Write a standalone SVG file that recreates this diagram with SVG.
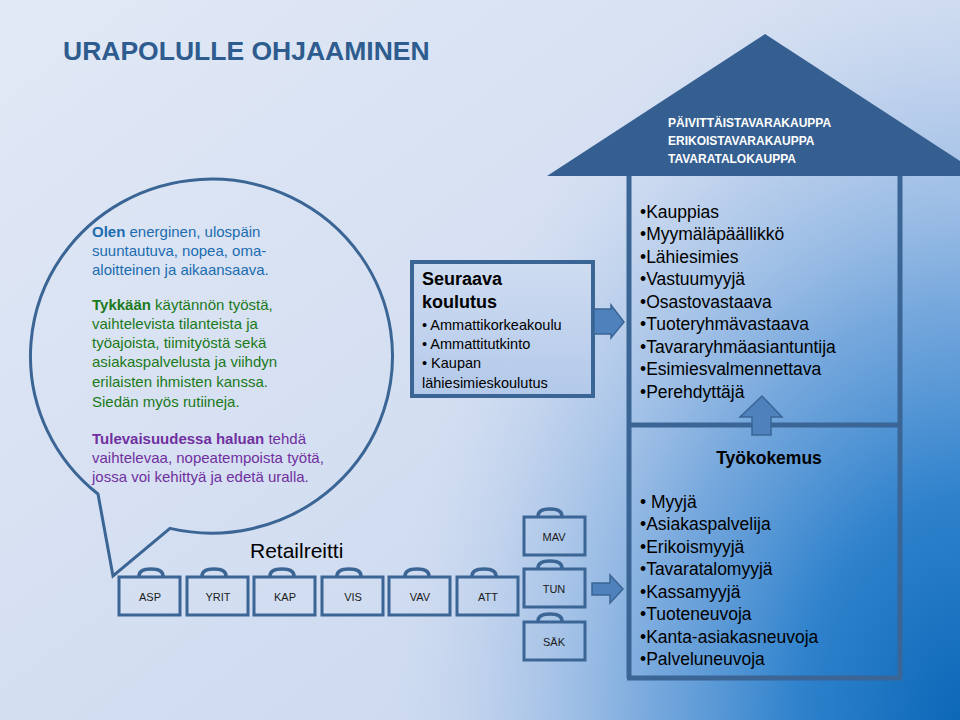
<svg xmlns="http://www.w3.org/2000/svg" width="960" height="720" viewBox="0 0 960 720">
<defs>
<linearGradient id="bg" x1="0" y1="0" x2="1" y2="1">
<stop offset="0" stop-color="#e2e9f6"/>
<stop offset="1" stop-color="#c5d4ed"/>
</linearGradient>
<radialGradient id="blue" gradientUnits="userSpaceOnUse" cx="0" cy="0" r="1" gradientTransform="translate(970,730) scale(580,780)">
<stop offset="0" stop-color="#0a66b6" stop-opacity="1"/>
<stop offset="0.3" stop-color="#2f82cc" stop-opacity="1"/>
<stop offset="0.55" stop-color="#6ea3db" stop-opacity="0.9"/>
<stop offset="0.8" stop-color="#a8c4e8" stop-opacity="0.6"/>
<stop offset="1" stop-color="#c5d4ed" stop-opacity="0"/>
</radialGradient>
<linearGradient id="boxfill" x1="0" y1="0" x2="0" y2="1">
<stop offset="0" stop-color="#cfdcf1"/>
<stop offset="1" stop-color="#b3c9ea"/>
</linearGradient>
</defs>
<style>
.t{font-family:"Liberation Sans",Arial,sans-serif}
.ln{fill:none;stroke:#3a6595;stroke-width:5}
.bc{fill:none;stroke:#3a6595;stroke-width:3}
.hd{fill:none;stroke:#3a6595;stroke-width:3.5;stroke-linecap:round}
.bt{font-family:"Liberation Sans",Arial,sans-serif;font-size:11px;fill:#1a1a1a;text-anchor:middle}
.arr{fill:#4f81bd;stroke:#3a6595;stroke-width:1.5}
.li{font-family:"Liberation Sans",Arial,sans-serif;font-size:17.5px;fill:#000}
</style>
<rect width="960" height="720" fill="url(#bg)"/>
<rect width="960" height="720" fill="url(#blue)"/>

<text class="t" x="63" y="60" font-size="26.5" font-weight="bold" fill="#2e5c8f">URAPOLULLE OHJAAMINEN</text>

<g id="bubble">
<path d="M98,494 A181,177 0 1 1 170,528.4 L113,576 Z" fill="none" stroke="#3a6595" stroke-width="3" stroke-linejoin="miter"/>
<text class="t" font-size="15" x="92">
<tspan x="92" y="237" fill="#1b6cb0"><tspan font-weight="bold">Olen</tspan> energinen, ulospäin</tspan>
<tspan x="92" y="256" fill="#1b6cb0">suuntautuva, nopea, oma-</tspan>
<tspan x="92" y="275" fill="#1b6cb0">aloitteinen ja aikaansaava.</tspan>
<tspan x="92" y="310" fill="#1b7a1b"><tspan font-weight="bold">Tykkään</tspan> käytännön työstä,</tspan>
<tspan x="92" y="329" fill="#1b7a1b">vaihtelevista tilanteista ja</tspan>
<tspan x="92" y="348" fill="#1b7a1b">työajoista, tiimityöstä sekä</tspan>
<tspan x="92" y="367" fill="#1b7a1b">asiakaspalvelusta ja viihdyn</tspan>
<tspan x="92" y="387" fill="#1b7a1b">erilaisten ihmisten kanssa.</tspan>
<tspan x="92" y="407" fill="#1b7a1b">Siedän myös rutiineja.</tspan>
<tspan x="92" y="444" fill="#7030a0"><tspan font-weight="bold">Tulevaisuudessa haluan</tspan> tehdä</tspan>
<tspan x="92" y="463" fill="#7030a0">vaihtelevaa, nopeatempoista työtä,</tspan>
<tspan x="92" y="482" fill="#7030a0">jossa voi kehittyä ja edetä uralla.</tspan>
</text>
</g>

<g id="koulutus">
<rect x="412" y="262" width="181" height="134" fill="url(#boxfill)" stroke="#3a6595" stroke-width="4"/>
<text class="t" font-size="18" font-weight="bold" fill="#000">
<tspan x="422" y="285">Seuraava</tspan>
<tspan x="422" y="308">koulutus</tspan>
</text>
<text class="t" font-size="14.5" fill="#000">
<tspan x="422" y="330">• Ammattikorkeakoulu</tspan>
<tspan x="422" y="349">• Ammattitutkinto</tspan>
<tspan x="422" y="368">• Kaupan</tspan>
<tspan x="422" y="388">lähiesimieskoulutus</tspan>
</text>
</g>

<g id="house">
<polygon points="547,176 765,34 983,176" fill="#365f91"/>
<text class="t" font-size="12" font-weight="bold" fill="#fff">
<tspan x="668" y="127">PÄIVITTÄISTAVARAKAUPPA</tspan>
<tspan x="668" y="145">ERIKOISTAVARAKAUPPA</tspan>
<tspan x="668" y="163">TAVARATALOKAUPPA</tspan>
</text>
<path class="ln" d="M629,176 V678 M900,176 V678 M629,425 H900 M627,678 H902"/>
</g>

<g id="ylempi">
<text class="li">
<tspan x="640" y="218">•Kauppias</tspan>
<tspan x="640" y="240">•Myymäläpäällikkö</tspan>
<tspan x="640" y="263">•Lähiesimies</tspan>
<tspan x="640" y="285">•Vastuumyyjä</tspan>
<tspan x="640" y="308">•Osastovastaava</tspan>
<tspan x="640" y="330">•Tuoteryhmävastaava</tspan>
<tspan x="640" y="353">•Tavararyhmäasiantuntija</tspan>
<tspan x="640" y="375">•Esimiesvalmennettava</tspan>
<tspan x="640" y="398">•Perehdyttäjä</tspan>
</text>
</g>

<g id="tyokokemus">
<text class="t" x="769" y="464" font-size="17.5" font-weight="bold" fill="#000" text-anchor="middle">Työkokemus</text>
<text class="li">
<tspan x="640" y="508">• Myyjä</tspan>
<tspan x="640" y="530">•Asiakaspalvelija</tspan>
<tspan x="640" y="553">•Erikoismyyjä</tspan>
<tspan x="640" y="575">•Tavaratalomyyjä</tspan>
<tspan x="640" y="598">•Kassamyyjä</tspan>
<tspan x="640" y="620">•Tuoteneuvoja</tspan>
<tspan x="640" y="643">•Kanta-asiakasneuvoja</tspan>
<tspan x="640" y="665">•Palveluneuvoja</tspan>
</text>
</g>

<text class="t" x="250" y="558" font-size="21" fill="#000">Retailreitti</text>

<g id="ASP"><path class="hd" d="M139,576 Q139,569 151,569 Q163,569 163,576"/><rect class="bc" x="119" y="577" width="61" height="38"/><text class="bt" x="150" y="601">ASP</text></g>
<g id="YRIT"><path class="hd" d="M202,576 Q202,569 214,569 Q226,569 226,576"/><rect class="bc" x="187" y="577" width="61" height="38"/><text class="bt" x="218" y="601">YRIT</text></g>
<g id="KAP"><path class="hd" d="M270,576 Q270,569 282,569 Q294,569 294,576"/><rect class="bc" x="254" y="577" width="61" height="38"/><text class="bt" x="285" y="601">KAP</text></g>
<g id="VIS"><path class="hd" d="M337,576 Q337,569 349,569 Q361,569 361,576"/><rect class="bc" x="322" y="577" width="61" height="38"/><text class="bt" x="353" y="601">VIS</text></g>
<g id="VAV"><path class="hd" d="M405,576 Q405,569 417,569 Q429,569 429,576"/><rect class="bc" x="389" y="577" width="61" height="38"/><text class="bt" x="420" y="601">VAV</text></g>
<g id="ATT"><path class="hd" d="M472,576 Q472,569 484,569 Q496,569 496,576"/><rect class="bc" x="457" y="577" width="61" height="38"/><text class="bt" x="488" y="601">ATT</text></g>

<g id="MAV"><path class="hd" d="M538,516 Q538,509 550,509 Q562,509 562,516"/><rect class="bc" x="524" y="517" width="61" height="38"/><text class="bt" x="554" y="541">MAV</text></g>
<g id="TUN"><path class="hd" d="M538,568 Q538,561 550,561 Q562,561 562,568"/><rect class="bc" x="524" y="569" width="61" height="38"/><text class="bt" x="554" y="593">TUN</text></g>
<g id="SAK"><path class="hd" d="M538,621 Q538,614 550,614 Q562,614 562,621"/><rect class="bc" x="524" y="622" width="61" height="38"/><text class="bt" x="554" y="646">SÄK</text></g>

<g id="connectors">
<polygon class="arr" points="594,309 611,309 611,305 624,322 611,338 611,334 594,334"/>
<polygon class="arr" points="592,583 610,583 610,575 623,589 610,603 610,595 592,595"/>
<polygon class="arr" points="752,435 752,417 740,417 762,396 782,417 771,417 771,435"/>
</g>
</svg>
